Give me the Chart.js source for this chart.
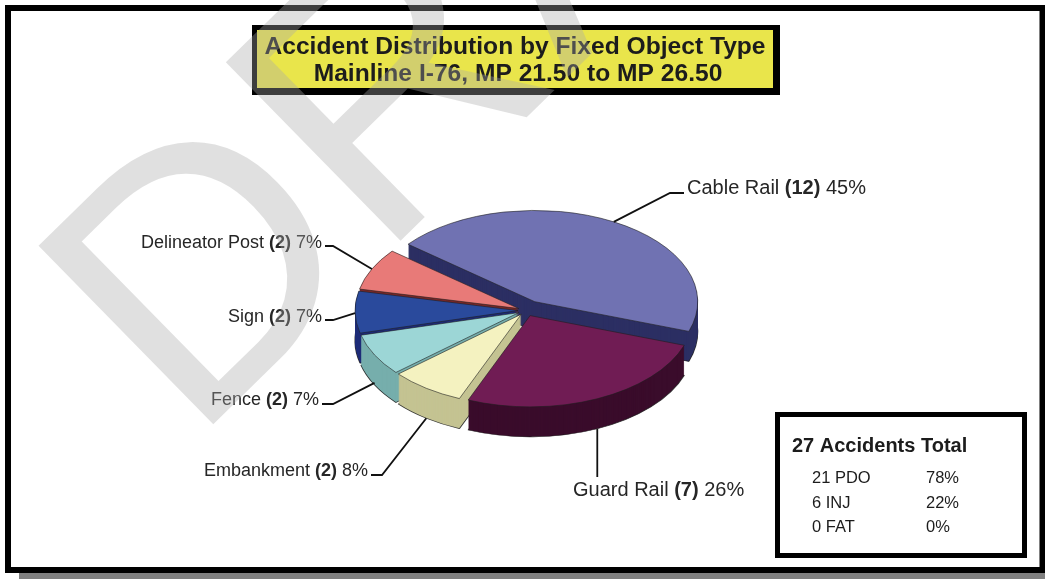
<!DOCTYPE html>
<html>
<head>
<meta charset="utf-8">
<title>Accident Distribution by Fixed Object Type</title>
<script src="https://cdn.jsdelivr.net/npm/chart.js@4.4.1/dist/chart.umd.min.js"></script>
<style>
  html, body { margin: 0; padding: 0; background: #fff; }
  #chart { display: block; }
</style>
</head>
<body>
<canvas id="chart" width="1045" height="579"></canvas>
<script>
/*
Fixed object accidents, mainline I-76 MP 21.50 - 26.50
*/
const categories = ["Cable Rail", "Guard Rail", "Embankment", "Fence", "Sign", "Delineator Post"];
const counts = [12, 7, 2, 2, 2, 2];
const percents = ["45%", "26%", "8%", "7%", "7%", "7%"];

const titleLines = ["Accident Distribution by Fixed Object Type", "Mainline I-76, MP 21.50 to MP 26.50"];

const totalAccidents = 27;
const severityTypes = ["PDO", "INJ", "FAT"];
const severityCounts = [21, 6, 0];
const severityPercents = ["78%", "22%", "0%"];

// slice styling
const topColors = ["#7072b2", "#701c54", "#f4f2c0", "#9cd6d6", "#2a4a9c", "#e87a78"];
const sideColors = ["#2c2f63", "#3a0c2b", "#c4c392", "#76aeac", "#1e2c78", "#782828"];
const explode = [18, 10, 8, 8, 8, 8];

const FONT = '"Liberation Sans", Arial, Helvetica, sans-serif';
const TILT = 0.56;   // vertical squash of the disc
const DEPTH = 30;    // disc thickness in px

function midAngle(arc) {
    return (arc.startAngle + arc.endAngle) / 2;
}

// draw an arc element with temporary colours (used for the extruded sides)
function drawArcWith(ctx, arc, fill, stroke, width) {
    const saved = arc.options;
    arc.options = Object.assign({}, saved, { backgroundColor: fill, borderColor: stroke, borderWidth: width });
    arc.draw(ctx);
    arc.options = saved;
}

function drawRich(ctx, parts, x, y, align, size) {
    let total = 0;
    parts.forEach(p => {
        ctx.font = `${p.bold ? "bold " : ""}${size}px ${FONT}`;
        p.w = ctx.measureText(p.text).width;
        total += p.w;
    });
    let cx = align === "right" ? x - total : x;
    ctx.textAlign = "left";
    ctx.textBaseline = "alphabetic";
    parts.forEach(p => {
        ctx.font = `${p.bold ? "bold " : ""}${size}px ${FONT}`;
        ctx.fillText(p.text, cx, y);
        cx += p.w;
    });
}

/*
Plugins
*/
const framePlugin = {
    id: "frame",
    beforeDraw(chart) {
        const ctx = chart.ctx;
        ctx.save();
        ctx.fillStyle = "#fff";
        ctx.fillRect(0, 0, chart.width, chart.height);
        ctx.fillStyle = "#808080";
        ctx.fillRect(19, 573, 1026, 6);
        ctx.strokeStyle = "#000";
        ctx.lineWidth = 6;
        ctx.strokeRect(8, 8, 1034.5, 562);

        // title plate
        ctx.fillStyle = "#000";
        ctx.fillRect(252, 25, 528, 70);
        ctx.fillStyle = "#e9e54b";
        ctx.fillRect(257, 30, 516, 58);
        ctx.fillStyle = "#1c1c1c";
        ctx.font = `bold 24.6px ${FONT}`;
        ctx.textAlign = "center";
        ctx.textBaseline = "alphabetic";
        ctx.fillText(titleLines[0], 515, 54);
        ctx.fillText(titleLines[1], 518, 81);
        ctx.restore();
    }
};

const pie3dPlugin = {
    id: "pie3d",
    beforeDatasetsDraw(chart) {
        const ctx = chart.ctx;
        const arcs = chart.getDatasetMeta(0).data;
        // back slices first
        const order = arcs.map((a, i) => i)
            .sort((i, j) => Math.sin(midAngle(arcs[i])) - Math.sin(midAngle(arcs[j])));
        for (const i of order) {
            const a = arcs[i];
            const m = midAngle(a);
            const dx = Math.cos(m) * explode[i];
            const dy = Math.sin(m) * explode[i];
            for (let d = DEPTH; d >= 0; d--) {
                ctx.save();
                ctx.translate(a.x, a.y + d);
                ctx.scale(1, TILT);
                ctx.translate(-a.x + dx, -a.y + dy);
                if (d === 0) {
                    a.draw(ctx);
                } else if (d === DEPTH) {
                    drawArcWith(ctx, a, sideColors[i], "rgba(20,20,20,0.8)", 1.2);
                } else {
                    drawArcWith(ctx, a, sideColors[i], sideColors[i], 0);
                }
                ctx.restore();
            }
        }
        return false;
    }
};

// label positions and leader line bends (null x = straight down from the slice)
const calloutLayout = [
    { path: [[670, 193], [684, 193]], text: [687, 194], align: "left", size: 20 },
    { path: [[null, 477]], text: [573, 496], align: "left", size: 20 },
    { path: [[382, 475], [371, 475]], text: [368, 476], align: "right", size: 18 },
    { path: [[333, 404], [322, 404]], text: [319, 405], align: "right", size: 18 },
    { path: [[333, 320], [325, 320]], text: [322, 322], align: "right", size: 18 },
    { path: [[333, 246], [325, 246]], text: [322, 248], align: "right", size: 18 }
];

const calloutPlugin = {
    id: "callouts",
    afterDraw(chart) {
        const ctx = chart.ctx;
        const arcs = chart.getDatasetMeta(0).data;
        ctx.save();
        arcs.forEach((a, i) => {
            const m = midAngle(a);
            const r = a.outerRadius + explode[i];
            const ax = a.x + Math.cos(m) * r;
            const ay = a.y + Math.sin(m) * r * TILT + DEPTH * Math.min(1, Math.max(0, Math.sin(m) * 2));
            const lay = calloutLayout[i];
            ctx.strokeStyle = "#111";
            ctx.lineWidth = 1.8;
            ctx.beginPath();
            ctx.moveTo(ax, ay);
            lay.path.forEach(p => ctx.lineTo(p[0] === null ? ax : p[0], p[1]));
            ctx.stroke();
            ctx.fillStyle = "#262626";
            drawRich(ctx, [
                { text: categories[i] + " " },
                { text: `(${counts[i]})`, bold: true },
                { text: " " + percents[i] }
            ], lay.text[0], lay.text[1], lay.align, lay.size);
        });
        ctx.restore();
    }
};

const summaryPlugin = {
    id: "summary",
    afterDraw(chart) {
        const ctx = chart.ctx;
        ctx.save();
        ctx.strokeStyle = "#000";
        ctx.lineWidth = 5;
        ctx.strokeRect(777.5, 414.5, 247, 141);
        ctx.fillStyle = "#1c1c1c";
        ctx.textAlign = "left";
        ctx.textBaseline = "alphabetic";
        ctx.font = `bold 20px ${FONT}`;
        ctx.fillText(`${totalAccidents} Accidents Total`, 792, 452);
        ctx.font = `16.5px ${FONT}`;
        severityTypes.forEach((t, i) => {
            const y = 483 + i * 24.5;
            ctx.fillText(`${severityCounts[i]} ${t}`, 812, y);
            ctx.fillText(severityPercents[i], 926, y);
        });
        ctx.restore();
    }
};

const watermarkPlugin = {
    id: "watermark",
    afterDraw(chart) {
        const ctx = chart.ctx;
        ctx.save();
        ctx.translate(192, 445);
        ctx.rotate(-44.4 * Math.PI / 180);
        ctx.font = `363px ${FONT}`;
        ctx.fillStyle = "rgba(168,168,168,0.36)";
        ctx.textAlign = "left";
        ctx.textBaseline = "alphabetic";
        ctx.fillText("DRAFT", 0, 0);
        ctx.restore();
    }
};

/*
Chart
*/
const chart = new Chart(document.getElementById("chart"), {
    type: "pie",
    data: {
        labels: categories,
        datasets: [{
            data: counts,
            backgroundColor: topColors,
            borderColor: "rgba(30,30,30,0.75)",
            borderWidth: 1,
            clip: false
        }]
    },
    options: {
        responsive: false,
        animation: false,
        events: [],
        rotation: -51,
        radius: 163,
        layout: { padding: { left: 100, right: 93, top: 80, bottom: 38 } },
        plugins: {
            legend: { display: false },
            tooltip: { enabled: false },
            title: { display: false }
        }
    },
    plugins: [framePlugin, pie3dPlugin, calloutPlugin, summaryPlugin, watermarkPlugin]
});
</script>
</body>
</html>
